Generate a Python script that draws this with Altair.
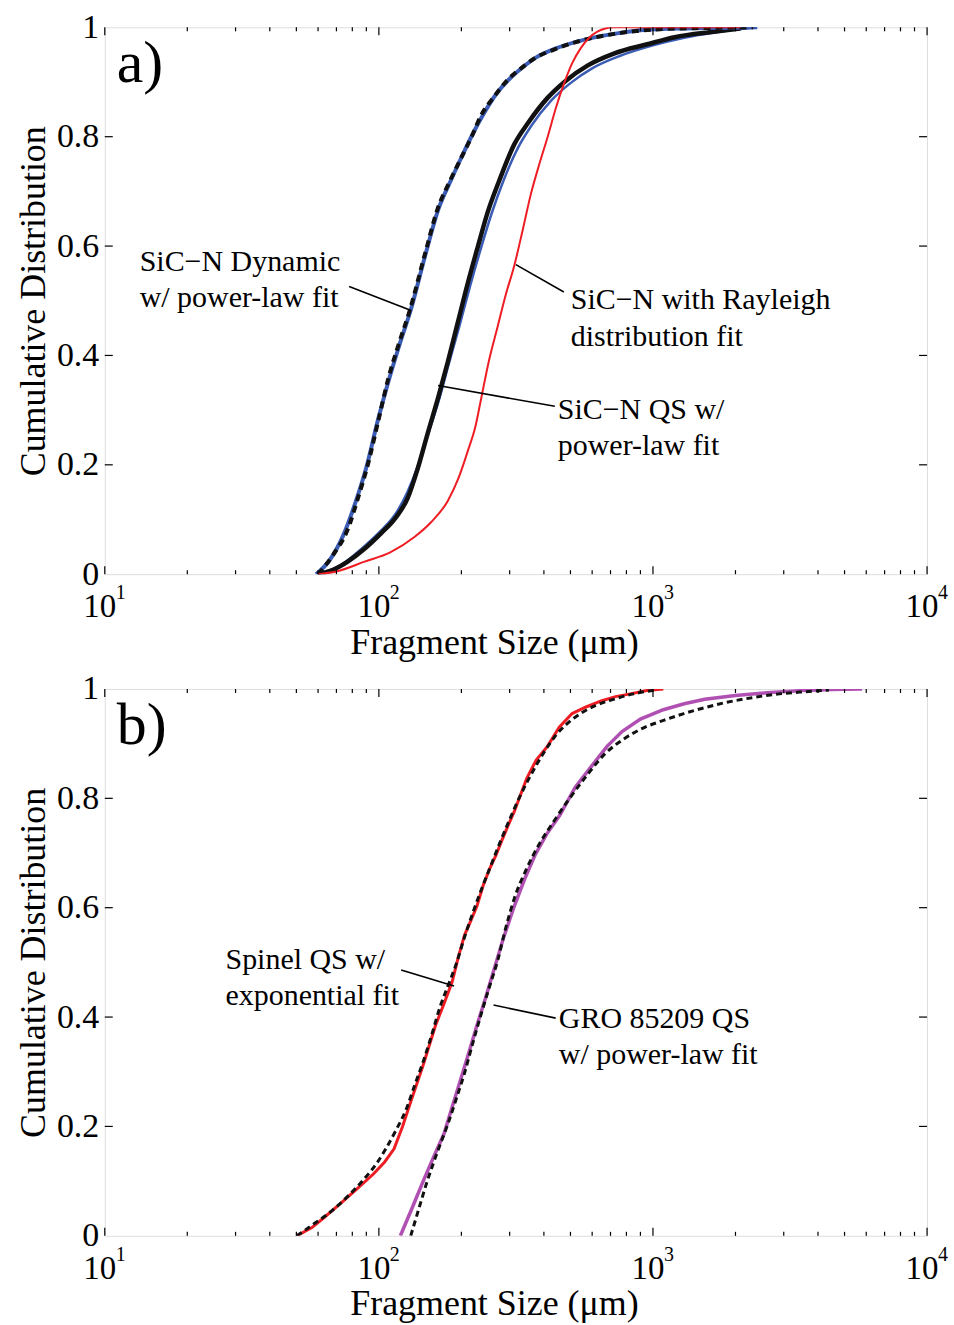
import altair as alt
import pandas as pd

# ---------------- Panel a data ----------------
# SiC-N Dynamic: empirical (blue) and power-law fit (black dashed)
dyn_x = [59, 66, 74, 82, 90, 99, 108, 119, 131, 148, 165, 183, 200, 220, 240, 268, 300, 335, 375, 445, 520, 630, 740, 920, 1300, 1800, 2400]
dyn_y = [0, 0.025, 0.07, 0.13, 0.195, 0.28, 0.35, 0.42, 0.485, 0.585, 0.668, 0.72, 0.762, 0.805, 0.84, 0.878, 0.906, 0.927, 0.945, 0.962, 0.973, 0.983, 0.989, 0.995, 0.998, 0.999, 1.0]
dynfit_x = [60, 68, 77, 84, 91, 100, 108, 118, 129, 147, 164, 182, 199, 218, 236, 265, 295, 330, 369, 440, 516, 620, 721, 900, 1259, 1700, 2323]
dynfit_y = [0, 0.035, 0.082, 0.14, 0.199, 0.285, 0.356, 0.42, 0.479, 0.584, 0.669, 0.72, 0.76, 0.80, 0.839, 0.875, 0.904, 0.925, 0.943, 0.96, 0.972, 0.982, 0.988, 0.994, 0.998, 0.999, 1.0]

# SiC-N QS: empirical (blue) and power-law fit (black)
qs_x = [60, 70, 88, 102, 115, 127, 138, 151, 166, 180, 197, 216, 237, 258, 285, 322, 360, 425, 500, 600, 760, 1000, 1300, 1700, 2100, 2400]
qs_y = [0, 0.012, 0.05, 0.08, 0.11, 0.15, 0.195, 0.255, 0.32, 0.385, 0.455, 0.53, 0.60, 0.66, 0.72, 0.78, 0.82, 0.866, 0.898, 0.925, 0.948, 0.967, 0.981, 0.991, 0.997, 1.0]
qsfit_x = [60, 68, 77, 88, 102, 115, 127.6, 138, 150.8, 165, 178.4, 194, 211, 230, 249.5, 275, 311.8, 350, 412.5, 480, 576.8, 720, 954, 1200, 1667, 2084]
qsfit_y = [0, 0.008, 0.023, 0.045, 0.075, 0.103, 0.140, 0.19, 0.258, 0.325, 0.388, 0.46, 0.532, 0.60, 0.662, 0.72, 0.786, 0.825, 0.871, 0.902, 0.930, 0.952, 0.969, 0.982, 0.992, 0.998]

# SiC-N with Rayleigh distribution fit (red)
ray_x = [60, 70, 88.7, 110, 134.8, 155, 178.4, 195, 211, 225, 235.9, 252, 271.3, 290, 311.8, 335, 358.5, 385, 412.5, 442, 474.2, 508, 545.3, 585, 627, 670, 721, 2084]
ray_y = [0, 0.005, 0.023, 0.04, 0.068, 0.095, 0.134, 0.175, 0.225, 0.27, 0.32, 0.39, 0.453, 0.51, 0.564, 0.63, 0.695, 0.75, 0.799, 0.852, 0.898, 0.935, 0.962, 0.981, 0.992, 0.998, 1.0, 1.0]

# ---------------- Panel b data ----------------
spin_x = [50.2, 57, 63, 72, 83.2, 95.5, 105, 113.6, 122, 130.7, 145, 161, 173, 185, 195, 205.4, 216, 228, 240, 253, 267, 281, 296, 312, 328, 346, 375, 412, 455, 507, 570, 647, 730, 826, 950, 1091]
spin_y = [0, 0.015, 0.033, 0.058, 0.086, 0.113, 0.135, 0.159, 0.20, 0.245, 0.312, 0.385, 0.425, 0.464, 0.51, 0.550, 0.575, 0.603, 0.64, 0.670, 0.695, 0.723, 0.75, 0.776, 0.805, 0.836, 0.87, 0.895, 0.93, 0.955, 0.967, 0.978, 0.986, 0.991, 0.997, 1.0]
spinfit_x = [50.2, 58, 67.5, 78, 89.1, 98, 106, 116, 126, 135, 145, 156, 167, 179, 191.5, 205, 220, 236, 253, 276, 301, 328, 358, 398, 442, 490, 544, 620, 718, 850, 1019]
spinfit_y = [0, 0.022, 0.046, 0.075, 0.106, 0.132, 0.159, 0.195, 0.232, 0.275, 0.318, 0.368, 0.418, 0.458, 0.497, 0.545, 0.590, 0.632, 0.670, 0.718, 0.763, 0.805, 0.842, 0.882, 0.915, 0.938, 0.955, 0.970, 0.981, 0.991, 0.998]

gro_x = [119.8, 132, 145, 158, 172.7, 185, 198.5, 213, 228, 245, 262, 285, 312, 340, 371, 410, 457, 520, 604, 680, 771, 900, 1091, 1300, 1545, 2000, 2602, 3500, 4500, 5794]
gro_y = [0, 0.05, 0.0995, 0.143, 0.186, 0.235, 0.285, 0.335, 0.385, 0.435, 0.484, 0.545, 0.603, 0.652, 0.696, 0.735, 0.769, 0.82, 0.862, 0.895, 0.922, 0.945, 0.962, 0.973, 0.981, 0.988, 0.993, 0.997, 0.999, 1.0]
grofit_x = [130.7, 140, 150, 164, 179, 192, 205.5, 220, 236, 253, 271.5, 290, 312, 345, 384.5, 435, 490, 570, 670, 780, 916, 1100, 1297, 1550, 1836, 2300, 2891, 3600, 4385]
grofit_y = [0, 0.05, 0.0995, 0.155, 0.206, 0.252, 0.298, 0.352, 0.405, 0.455, 0.504, 0.562, 0.617, 0.67, 0.716, 0.758, 0.796, 0.84, 0.882, 0.908, 0.928, 0.943, 0.955, 0.966, 0.975, 0.984, 0.991, 0.995, 0.998]

# ---------------- Annotations ----------------
a_text = ["SiC\u2212N Dynamic", "w/ power-law fit", "SiC\u2212N with Rayleigh", "distribution fit", "SiC\u2212N QS w/", "power-law fit"]
a_text_x = [13.41, 13.41, 501.5, 501.5, 449.7, 449.7]
a_text_y = [0.571, 0.505, 0.502, 0.434, 0.301, 0.2336]
a_ptr_x1 = [77.9, 316, 164.4]
a_ptr_y1 = [0.526, 0.566, 0.345]
a_ptr_x2 = [131.2, 473, 438.5]
a_ptr_y2 = [0.482, 0.516, 0.307]

b_text = ["Spinel QS w/", "exponential fit", "GRO 85209 QS", "w/ power-law fit"]
b_text_x = [27.57, 27.57, 453.5, 453.5]
b_text_y = [0.5046, 0.439, 0.397, 0.3315]
b_ptr_x1 = [120.6, 262]
b_ptr_y1 = [0.486, 0.422]
b_ptr_x2 = [188, 441.6]
b_ptr_y2 = [0.457, 0.398]

panel_labels = ["a)", "b)"]

# ---------------- Axes / ticks ----------------
x_major = [10, 100, 1000, 10000]
x_exp = ["1", "2", "3", "4"]
x_minor = [m * d for d in (10, 100, 1000) for m in range(2, 10)]
y_inner_ticks = [0.2, 0.4, 0.6, 0.8]
y_label_vals = [0, 0.2, 0.4, 0.6, 0.8, 1]

W, H = 824, 548
SERIF = "Liberation Serif"
XS = alt.Scale(type="log", domain=[10, 10000], nice=False)
YS = alt.Scale(domain=[0, 1], nice=False, zero=False)


def xenc(field="x"):
    return alt.X(f"{field}:Q", scale=XS,
                 axis=alt.Axis(labels=False, ticks=False, domain=False, grid=False,
                               title="Fragment Size (\u03bcm)", titleFont=SERIF,
                               titleFontSize=36, titleFontWeight="normal",
                               titleColor="black", titlePadding=51,
                               titleX=390, titleAlign="center"))


def yenc(field="y"):
    return alt.Y(f"{field}:Q", scale=YS,
                 axis=alt.Axis(values=y_label_vals, format=".1~f", ticks=False,
                               domain=False, grid=False, labelFont=SERIF,
                               labelFontSize=34, labelColor="black", labelPadding=6,
                               labelFlush=False, labelOverlap=False,
                               title="Cumulative Distribution", titleFont=SERIF,
                               titleFontSize=36, titleFontWeight="normal",
                               titleColor="black", titlePadding=4))


def curve(xs, ys, color, width, dash=None, smooth=False):
    df = pd.DataFrame({"x": xs, "y": ys, "o": list(range(len(xs)))})
    kw = dict(color=color, strokeWidth=width, clip=True, strokeCap="butt")
    if dash:
        kw["strokeDash"] = dash
    if smooth:
        kw["interpolate"] = "monotone"
    return alt.Chart(df).mark_line(**kw).encode(x=xenc(), y=yenc(), order="o:Q")


def frame_layers():
    maj = pd.DataFrame({"x": x_major, "e": x_exp})
    mino = pd.DataFrame({"x": x_minor})
    yt = pd.DataFrame({"y": y_inner_ticks})
    layers = []
    for (df, L) in ((maj, 8), (mino, 4)):
        layers.append(alt.Chart(df).mark_rule(color="black", strokeWidth=1.2).encode(
            x=xenc(), y=alt.value(H), y2=alt.value(H - L)))
        layers.append(alt.Chart(df).mark_rule(color="black", strokeWidth=1.2).encode(
            x=xenc(), y=alt.value(0), y2=alt.value(L)))
    layers.append(alt.Chart(yt).mark_rule(color="black", strokeWidth=1.2).encode(
        y=yenc(), x=alt.value(0), x2=alt.value(8)))
    layers.append(alt.Chart(yt).mark_rule(color="black", strokeWidth=1.2).encode(
        y=yenc(), x=alt.value(W), x2=alt.value(W - 8)))
    # tick labels 10^n
    layers.append(alt.Chart(maj).mark_text(font=SERIF, fontSize=33, color="black",
                                           align="center", baseline="alphabetic", dx=-5).encode(
        x=xenc(), y=alt.value(H + 43), text=alt.value("10")))
    layers.append(alt.Chart(maj).mark_text(font=SERIF, fontSize=20, color="black",
                                           align="left", baseline="alphabetic", dx=11).encode(
        x=xenc(), y=alt.value(H + 25), text="e:N"))
    return layers


def annot(texts, tx, ty, x1, y1, x2, y2, label):
    tdf = pd.DataFrame({"x": tx, "y": ty, "t": texts})
    pdf = pd.DataFrame({"x": x1, "y": y1, "x2": x2, "y2": y2})
    ldf = pd.DataFrame({"x": [11.06], "y": [0.9325], "t": [label]})
    return [
        alt.Chart(pdf).mark_rule(color="black", strokeWidth=1.6).encode(
            x=xenc(), y=yenc(), x2="x2:Q", y2="y2:Q"),
        alt.Chart(tdf).mark_text(font=SERIF, fontSize=30, color="black", align="left",
                                 baseline="middle").encode(x=xenc(), y=yenc(), text="t:N"),
        alt.Chart(ldf).mark_text(font=SERIF, fontSize=60, color="black", align="left",
                                 baseline="middle").encode(x=xenc(), y=yenc(), text="t:N"),
    ]


BLUE = "#3a5cb4"
RED = "#ee1d24"
MAG = "#b150b3"
BLK = "#111111"

panel_a = alt.layer(
    curve(qs_x, qs_y, BLUE, 2.5, smooth=True),
    curve(qsfit_x, qsfit_y, BLK, 4.5, smooth=True),
    curve(dyn_x, dyn_y, BLUE, 4, smooth=True),
    curve(dynfit_x, dynfit_y, BLK, 4, [7, 5], smooth=True),
    curve(ray_x, ray_y, RED, 2, smooth=True),
    *annot(a_text, a_text_x, a_text_y, a_ptr_x1, a_ptr_y1, a_ptr_x2, a_ptr_y2, panel_labels[0]),
    *frame_layers(),
).properties(width=W, height=H)

panel_b = alt.layer(
    curve(spin_x, spin_y, RED, 3),
    curve(spinfit_x, spinfit_y, BLK, 3, [6, 4], smooth=True),
    curve(gro_x, gro_y, MAG, 3.5),
    curve(grofit_x, grofit_y, BLK, 3, [6, 4], smooth=True),
    *annot(b_text, b_text_x, b_text_y, b_ptr_x1, b_ptr_y1, b_ptr_x2, b_ptr_y2, panel_labels[1]),
    *frame_layers(),
).properties(width=W, height=H)

chart = alt.vconcat(panel_a, panel_b, spacing=115, bounds="flush").properties(
    padding={"left": 15, "top": 8, "right": 5, "bottom": 5}
).configure_view(stroke="black", strokeWidth=2).configure(font=SERIF, background="white")

chart.save("out.html", embed_options={"renderer": "svg", "actions": False})
